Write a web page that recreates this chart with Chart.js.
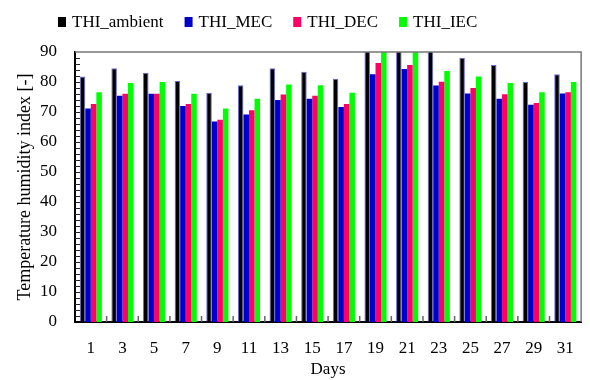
<!DOCTYPE html>
<html>
<head>
<meta charset="utf-8">
<script src="https://cdn.jsdelivr.net/npm/chart.js@4"></script>
<style>
  html, body { margin: 0; padding: 0; background: #fff; }
  #wrap { width: 590px; height: 380px; }
</style>
</head>
<body>
<div id="wrap"><canvas id="thiChart" width="590" height="380"></canvas></div>
<script>
// data
const days = ['1', '3', '5', '7', '9', '11', '13', '15', '17', '19', '21', '23', '25', '27', '29', '31'];
const thiAmbient = [81.8, 84.6, 83.1, 80.3, 76.4, 78.9, 84.6, 83.4, 81.1, 91.5, 91.0, 90.5, 88.1, 85.7, 80.1, 82.6];
const thiMEC = [71.2, 75.4, 76.1, 72.0, 66.8, 69.2, 74.0, 74.4, 71.7, 82.6, 84.3, 78.8, 76.2, 74.4, 72.4, 76.2];
const thiDEC = [72.7, 76.1, 76.1, 72.7, 67.4, 70.6, 75.8, 75.4, 72.7, 86.3, 85.7, 80.1, 78.0, 75.9, 73.0, 76.6];
const thiIEC = [76.6, 79.7, 80.0, 76.1, 71.2, 74.4, 79.2, 78.9, 76.4, 90.8, 90.3, 83.7, 81.8, 79.7, 76.6, 80.0];

const serif = 'Liberation Serif, Times New Roman, serif';

// frame, inward tick marks and the legend row
const framePlugin = {
    id: 'frame',
    afterDraw(chart) {
        const ctx = chart.ctx;
        const area = chart.chartArea;
        const x = chart.scales.x;
        const y = chart.scales.y;
        ctx.save();

        // top + right edges are grey
        ctx.strokeStyle = '#777';
        ctx.lineWidth = 1.5;
        ctx.beginPath();
        ctx.moveTo(area.left, area.top);
        ctx.lineTo(area.right, area.top);
        ctx.lineTo(area.right, area.bottom);
        ctx.stroke();

        // minor ticks on the y axis, pointing in
        ctx.strokeStyle = '#222';
        ctx.lineWidth = 1;
        for (let v = 2; v < 90; v += 2) {
            const py = Math.round(y.getPixelForValue(v)) + 0.5;
            ctx.beginPath();
            ctx.moveTo(area.left, py);
            ctx.lineTo(area.left + 5, py);
            ctx.stroke();
        }

        // ticks between day groups
        ctx.strokeStyle = '#666';
        ctx.lineWidth = 1.5;
        for (let i = 1; i < days.length; i++) {
            const px = (x.getPixelForValue(i - 1) + x.getPixelForValue(i)) / 2;
            ctx.beginPath();
            ctx.moveTo(px, area.bottom);
            ctx.lineTo(px, area.bottom - 6);
            ctx.stroke();
        }

        // legend
        ctx.font = '17px ' + serif;
        ctx.textBaseline = 'middle';
        ctx.fillStyle = '#000';
        let lx = 58;
        const ly = 22;
        chart.data.datasets.forEach(ds => {
            ctx.fillStyle = ds.backgroundColor;
            ctx.fillRect(lx, ly - 5, 8, 10);
            ctx.fillStyle = '#000';
            ctx.fillText(ds.label, lx + 14, ly + 1);
            lx += 14 + ctx.measureText(ds.label).width + 21;
        });

        ctx.restore();
    }
};

const ctx = document.getElementById('thiChart').getContext('2d');
new Chart(ctx, {
    type: 'bar',
    data: {
        labels: days,
        datasets: [
            { label: 'THI_ambient', data: thiAmbient, backgroundColor: '#000000', borderColor: 'rgba(40,40,210,0.7)', borderWidth: 1 },
            { label: 'THI_MEC', data: thiMEC, backgroundColor: '#0000CC' },
            { label: 'THI_DEC', data: thiDEC, backgroundColor: '#FF0066' },
            { label: 'THI_IEC', data: thiIEC, backgroundColor: '#00FF00' }
        ]
    },
    options: {
        responsive: false,
        devicePixelRatio: 1,
        animation: false,
        layout: { padding: { top: 52, right: 6, left: 0, bottom: 0 } },
        datasets: {
            bar: { categoryPercentage: 0.7, barPercentage: 1.0, clip: 0 }
        },
        plugins: {
            legend: { display: false },
            tooltip: { enabled: false }
        },
        scales: {
            x: {
                grid: { display: false, drawTicks: false },
                border: { color: '#000', width: 2 },
                ticks: { color: '#000', padding: 16, font: { family: serif, size: 17 } },
                title: { display: true, text: 'Days', color: '#000', padding: 0, font: { family: serif, size: 17 } },
                afterFit: s => { s.height = 58; }
            },
            y: {
                min: 0,
                max: 90,
                grid: { display: false, drawTicks: false },
                border: { color: '#000', width: 2 },
                ticks: { stepSize: 10, color: '#000', padding: 18, font: { family: serif, size: 17 } },
                title: { display: true, text: 'Temperature humidity index [-]', color: '#000', padding: { top: 14, bottom: 0 }, font: { family: serif, size: 18 } },
                afterFit: s => { s.width = 75; }
            }
        }
    },
    plugins: [framePlugin]
});
</script>
</body>
</html>
